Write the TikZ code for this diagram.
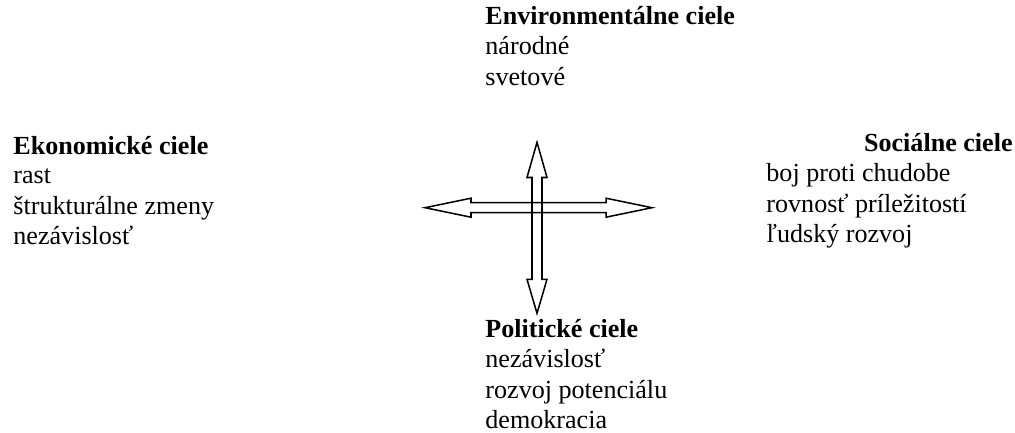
\documentclass[tikz,border=0pt]{standalone}
\usepackage{fontspec}
\setmainfont{Liberation Serif}
\begin{document}
\begin{tikzpicture}[font=\fontsize{12}{14}\selectfont, x=0.46pt, y=-0.46pt]
%% coordinates are given in pixels of the original drawing (y grows downwards)
%% the lists are placed by the baseline of their last line
\tikzstyle{goalHead}=[anchor=base west,inner sep=0pt,font=\fontsize{12}{14}\selectfont\bfseries]
\tikzstyle{goalList}=[anchor=base west,inner sep=0pt,align=left]
\tikzstyle{blockArrow}=[draw=black,line width=0.7pt,line join=miter]
\useasboundingbox (0,0) rectangle (1015,432);
%% goal groups %%
\node[goalHead] at (485,24) (envHead) {Environmentálne ciele};
\node[goalList] at (485,85.4) (envList) {národné\\svetové};
\node[goalHead] at (13,154) (ekoHead) {Ekonomické ciele};
\node[goalList] at (13,244.8) (ekoList) {rast\\štrukturálne zmeny\\nezávislosť};
\node[goalHead,anchor=base east] at (1013,151) (socHead) {Sociálne ciele};
\node[goalList] at (766,242.8) (socList) {boj proti chudobe\\rovnosť príležitostí\\ľudský rozvoj};
\node[goalHead] at (485,337) (polHead) {Politické ciele};
\node[goalList] at (485,428.8) (polList) {nezávislosť\\rozvoj potenciálu\\demokracia};
%% horizontal double arrow
\draw[blockArrow] (425,207.7) -- (471,198.2) -- (471,202.7) -- (606,202.7) -- (606,198.2)
  -- (652,207.7) -- (606,217.2) -- (606,212.7) -- (471,212.7) -- (471,217.2) -- cycle;
%% vertical double arrow
\draw[blockArrow] (537,142.3) -- (547,177.5) -- (542,177.5) -- (542,279.3) -- (547,279.3)
  -- (537,313.3) -- (527,279.3) -- (532,279.3) -- (532,177.5) -- (527,177.5) -- cycle;
\end{tikzpicture}
\end{document}
